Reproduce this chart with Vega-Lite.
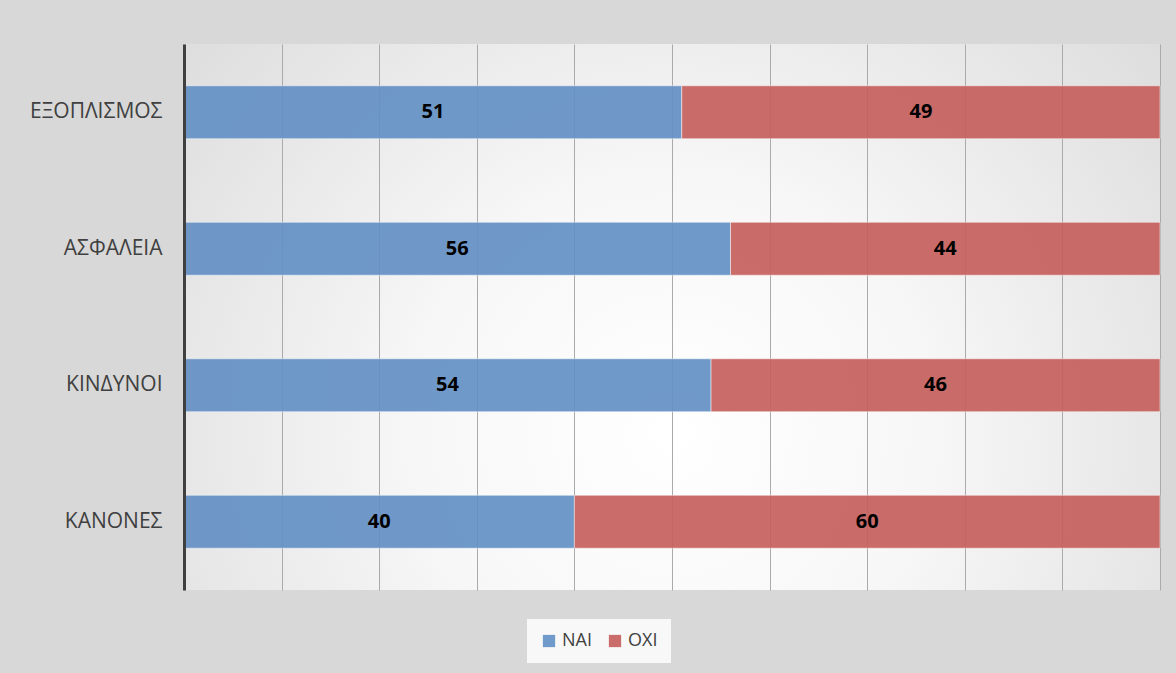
{
  "$schema": "https://vega.github.io/schema/vega-lite/v6.json",
  "width": 976,
  "height": 546,
  "autosize": "none",
  "padding": {"left": 184, "top": 44, "right": 16, "bottom": 83},
  "background": "#d8d8d8",
  "data": {
    "values": [
      {"topic": "ΕΞΟΠΛΙΣΜΟΣ", "answer": "ΝΑΙ", "pct": 51},
      {"topic": "ΕΞΟΠΛΙΣΜΟΣ", "answer": "ΟΧΙ", "pct": 49},
      {"topic": "ΑΣΦΑΛΕΙΑ", "answer": "ΝΑΙ", "pct": 56},
      {"topic": "ΑΣΦΑΛΕΙΑ", "answer": "ΟΧΙ", "pct": 44},
      {"topic": "ΚΙΝΔΥΝΟΙ", "answer": "ΝΑΙ", "pct": 54},
      {"topic": "ΚΙΝΔΥΝΟΙ", "answer": "ΟΧΙ", "pct": 46},
      {"topic": "ΚΑΝΟΝΕΣ", "answer": "ΝΑΙ", "pct": 40},
      {"topic": "ΚΑΝΟΝΕΣ", "answer": "ΟΧΙ", "pct": 60}
    ]
  },
  "encoding": {
    "y": {
      "field": "topic",
      "type": "nominal",
      "sort": ["ΕΞΟΠΛΙΣΜΟΣ", "ΑΣΦΑΛΕΙΑ", "ΚΙΝΔΥΝΟΙ", "ΚΑΝΟΝΕΣ"],
      "scale": {"paddingInner": 0.612, "paddingOuter": 0.306},
      "axis": {
        "title": null,
        "ticks": false,
        "domainColor": "#404040",
        "domainWidth": 3,
        "labelFont": "Open Sans",
        "labelFontSize": 21,
        "labelColor": "#404040",
        "labelPadding": 22,
        "zindex": 1
      }
    },
    "x": {
      "field": "pct",
      "type": "quantitative",
      "stack": "zero",
      "scale": {"domain": [0, 100], "nice": false},
      "axis": {
        "title": null,
        "labels": false,
        "ticks": false,
        "domain": false,
        "tickCount": 10,
        "grid": true,
        "gridColor": "#aaaaaa",
        "gridWidth": 1
      }
    },
    "order": {"field": "answer", "sort": "ascending"}
  },
  "layer": [
    {
      "mark": {
        "type": "bar",
        "opacity": 0.92,
        "stroke": "#ffffff",
        "strokeOpacity": 0.5,
        "strokeWidth": 1
      },
      "encoding": {
        "color": {
          "field": "answer",
          "type": "nominal",
          "scale": {"domain": ["ΝΑΙ", "ΟΧΙ"], "range": ["#6491C5", "#C6605D"]},
          "legend": {
            "title": null,
            "orient": "none",
            "direction": "horizontal",
            "legendX": 343,
            "legendY": 575,
            "symbolType": "square",
            "symbolSize": 150,
            "symbolStrokeWidth": 0,
            "labelFont": "Open Sans",
            "labelFontSize": 18,
            "labelColor": "#404040",
            "columnPadding": 14,
            "padding": 13,
            "fillColor": "#f8f8f8"
          }
        }
      }
    },
    {
      "mark": {
        "type": "text",
        "font": "Open Sans",
        "fontSize": 20,
        "fontWeight": "bold",
        "color": "#000000"
      },
      "encoding": {
        "x": {"field": "pct", "type": "quantitative", "stack": "zero", "bandPosition": 0.5},
        "detail": {"field": "answer"},
        "text": {"field": "pct", "type": "quantitative"}
      }
    }
  ],
  "config": {
    "view": {
      "stroke": null,
      "fill": {
        "gradient": "radial",
        "x1": 0.5, "y1": 0.62, "r1": 0,
        "x2": 0.5, "y2": 0.62, "r2": 0.75,
        "stops": [
          {"offset": 0, "color": "#ffffff"},
          {"offset": 0.35, "color": "#f7f7f7"},
          {"offset": 1, "color": "#d6d6d6"}
        ]
      }
    }
  }
}
